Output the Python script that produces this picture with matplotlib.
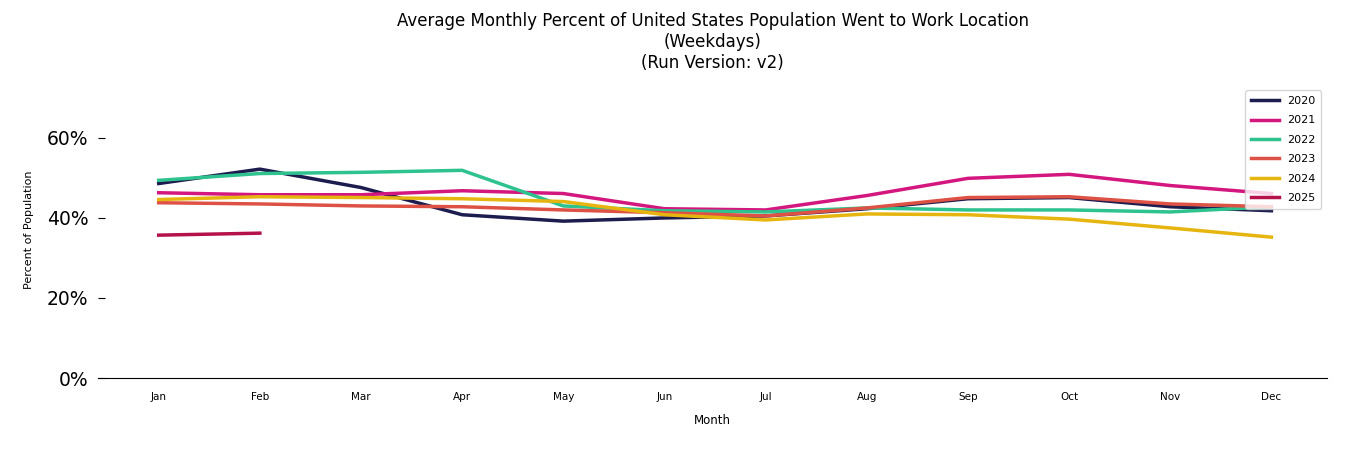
import matplotlib
matplotlib.use("Agg")
import matplotlib.pyplot as plt
from matplotlib.ticker import PercentFormatter

# Month labels on the x axis
months = ["Jan", "Feb", "Mar", "Apr", "May", "Jun",
          "Jul", "Aug", "Sep", "Oct", "Nov", "Dec"]

# Average monthly percent of population at work location (weekdays)
y2020 = [48.6, 52.2, 47.6, 40.8, 39.2, 40.0, 40.5, 42.3, 44.8, 45.1, 42.8, 41.8]
y2021 = [46.3, 45.8, 45.8, 46.8, 46.1, 42.3, 42.0, 45.6, 49.9, 50.9, 48.1, 46.1]
y2022 = [49.4, 51.1, 51.4, 51.9, 43.0, 41.8, 41.5, 42.5, 42.0, 42.0, 41.5, 42.8]
y2023 = [43.8, 43.5, 43.0, 42.8, 42.0, 41.3, 40.5, 42.5, 45.1, 45.3, 43.5, 42.8]
y2024 = [44.6, 45.3, 45.1, 44.8, 44.1, 40.8, 39.5, 41.0, 40.8, 39.7, 37.5, 35.2]
y2025 = [35.7, 36.2]

years = ["2020", "2021", "2022", "2023", "2024", "2025"]
colors = ["#1c1c4e", "#d4177f", "#2ec28f", "#de5245", "#e6b510", "#b5124c"]

series = [y2020, y2021, y2022, y2023, y2024, y2025]

fig = plt.figure(figsize=(13.5, 4.5), dpi=100)
ax = fig.add_axes([0.0726, 0.16, 0.9104, 0.658])

for label, values, color in zip(years, series, colors):
    ax.plot(range(len(values)), values, color=color, linewidth=2.5, label=label)

ax.set_xticks(range(len(months)))
ax.set_xticklabels(months, fontsize=7.5)
ax.set_xlim(-0.6, 11.55)
ax.set_ylim(0, 74)
ax.set_yticks([0, 20, 40, 60])
ax.yaxis.set_major_formatter(PercentFormatter(decimals=0))
ax.tick_params(axis="y", labelsize=13.5, direction="in", length=5, pad=7)
ax.tick_params(axis="x", length=0, pad=10)

for side in ["top", "right", "left"]:
    ax.spines[side].set_visible(False)

ax.set_xlabel("Month", fontsize=8.5, labelpad=9)
ax.set_ylabel("Percent of Population", fontsize=8, labelpad=9)
ax.set_title("Average Monthly Percent of United States Population Went to Work Location\n"
             "(Weekdays)\n(Run Version: v2)", fontsize=12, pad=10)

ax.legend(loc="upper right", fontsize=8, handlelength=2.5, borderpad=0.5,
          labelspacing=0.85, bbox_to_anchor=(1.0, 0.99))

fig.savefig("out.png", dpi=100)
